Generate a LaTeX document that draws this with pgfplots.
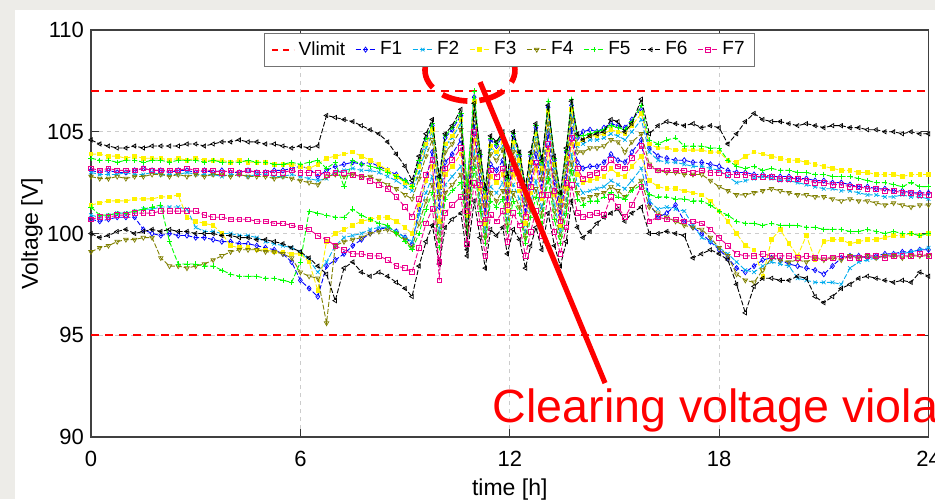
\documentclass[border=0pt]{standalone}
\usepackage{fontspec}
\setmainfont{Liberation Sans}
\usepackage{pgfplots}
\pgfplotsset{compat=1.18}
\usepackage{pgfplotstable}

\definecolor{olivec}{RGB}{128,128,0}
\definecolor{vred}{RGB}{255,0,0}
\definecolor{slidegray}{RGB}{237,236,232}

% upper group of nodes, one column per feeder
\pgfplotstableread{
t F1 F2 F3 F4 F5 F6 F7
0 103.1 103.0 103.9 102.8 103.7 104.6 103.2
0.25 103.0 102.9 103.9 102.7 103.6 104.4 103.1
0.5 103.1 102.9 103.8 102.7 103.6 104.3 103.2
0.75 103.0 102.9 103.8 102.8 103.5 104.2 103.1
1 103.0 103.0 103.7 102.7 103.6 104.2 103.1
1.25 103.1 102.9 103.8 102.8 103.6 104.3 103.1
1.5 103.2 102.9 103.7 102.8 103.5 104.2 103.2
1.75 103.1 103.0 103.7 102.9 103.6 104.3 103.1
2 103.1 102.9 103.7 102.9 103.6 104.3 103.1
2.25 103.0 102.9 103.6 102.8 103.5 104.3 103.1
2.5 103.1 102.9 103.7 102.9 103.6 104.3 103.1
2.75 103.1 103.0 103.6 102.8 103.6 104.4 103.2
3 103.0 102.9 103.7 102.9 103.6 104.4 103.1
3.25 103.1 102.9 103.6 102.8 103.5 104.3 103.1
3.5 103.0 102.9 103.6 102.9 103.6 104.4 103.1
3.75 103.1 102.8 103.6 102.9 103.5 104.5 103.0
4 103.0 102.9 103.5 102.8 103.5 104.5 103.1
4.25 103.0 102.9 103.6 102.9 103.5 104.6 103.0
4.5 103.1 102.8 103.5 102.8 103.6 104.5 103.1
4.75 103.0 102.9 103.5 102.8 103.5 104.5 103.0
5 103.0 102.9 103.5 102.8 103.5 104.4 103.0
5.25 103.1 102.8 103.4 102.7 103.4 104.4 103.0
5.5 103.1 102.8 103.4 102.8 103.4 104.3 103.0
5.75 103.2 102.9 103.4 102.7 103.5 104.2 103.1
6 103.3 102.8 103.3 102.6 103.4 104.3 103.0
6.25 103.2 102.7 103.2 102.5 103.5 104.2 103.0
6.5 102.8 102.6 103.4 102.4 103.6 104.3 103.0
6.75 103.1 102.7 103.7 102.8 103.2 105.8 102.9
7 103.3 103.0 103.8 102.9 103.5 105.7 103.0
7.25 103.4 103.1 103.9 102.8 102.3 105.6 103.0
7.5 103.5 103.2 104.0 102.9 103.6 105.5 102.9
7.75 103.4 103.1 103.8 102.8 103.4 105.3 102.8
8 103.5 103.1 103.6 102.8 103.3 105.1 102.6
8.25 103.3 103.0 103.4 102.6 103.2 104.9 102.4
8.5 103.1 102.8 103.1 102.4 103.0 104.5 102.2
8.75 102.9 102.6 102.8 102.2 102.8 103.9 101.8
9.0 102.6 102.3 102.5 101.9 102.6 103.3 101.3
9.2 102.4 102.1 102.3 101.7 102.3 102.6 100.8
9.4 103.5 103.0 103.3 102.7 103.6 103.8 101.7
9.6 104.6 104.2 104.4 103.8 104.7 104.9 102.9
9.78 105.3 104.9 105.1 104.6 105.4 105.6 103.6
9.98 102.5 102.1 102.3 101.8 102.7 102.8 97.7
10.15 104.7 104.3 104.4 104.0 104.8 104.9 103.2
10.35 105.1 104.7 104.8 104.4 105.2 105.3 103.6
10.6 105.8 105.4 105.6 105.1 105.9 106.1 104.2
10.78 102.3 102.0 102.1 101.8 102.4 99.2 101.1
10.98 106.7 106.2 106.5 105.9 107.0 106.4 105.0
11.15 103.8 103.4 103.6 103.2 103.9 104.0 102.4
11.3 102.0 101.7 101.8 101.4 102.1 102.2 100.7
11.45 104.6 104.2 104.3 103.9 104.7 104.8 103.1
11.62 104.3 103.9 104.0 103.6 104.4 104.5 102.8
11.8 104.8 104.3 104.5 104.1 104.9 105.0 103.2
11.93 102.6 102.3 102.4 102.0 102.7 102.8 101.4
12.1 104.8 104.3 104.5 104.0 104.9 105.0 103.2
12.28 103.8 103.4 103.6 103.1 103.9 104.0 102.4
12.45 102.1 101.7 101.9 101.5 102.2 102.3 100.8
12.6 103.8 103.4 103.5 103.1 103.9 104.0 102.3
12.75 105.2 104.7 104.9 104.4 105.3 105.4 103.5
12.92 103.4 103.0 103.2 102.7 103.5 103.6 101.9
13.1 106.2 105.7 106.0 105.4 106.5 106.3 104.4
13.28 103.6 103.2 103.4 102.9 103.7 103.8 102.1
13.45 101.8 101.5 101.6 101.3 101.9 102.0 100.6
13.62 104.0 103.6 103.7 103.3 104.1 104.2 102.5
13.77 106.3 105.9 106.1 105.6 106.6 106.5 104.7
13.94 104.7 104.3 104.4 104.0 104.8 104.9 103.2
14.1 105.0 104.4 104.6 104.0 104.8 104.6 102.7
14.3 105.1 104.6 104.8 104.2 104.9 104.8 102.9
14.5 105.0 104.6 104.8 104.2 105.0 104.9 103.0
14.7 105.2 104.7 104.9 104.3 105.1 105.0 103.2
14.9 105.4 104.9 105.1 104.6 105.3 105.6 103.6
15.1 105.3 104.8 105.0 104.5 105.2 105.5 103.3
15.3 105.2 104.6 104.9 104.0 105.1 105.0 103.2
15.5 105.6 105.0 105.3 104.5 105.5 105.4 103.7
15.77 106.1 105.6 105.9 104.9 106.3 106.6 104.3
16.0 104.2 104.0 104.4 103.4 104.6 104.9 103.3
16.25 103.8 103.6 104.2 103.1 104.4 105.3 103.1
16.5 103.7 103.5 104.2 103.0 104.6 105.5 103.1
16.75 103.6 103.5 104.1 103.0 104.7 105.4 103.1
17.0 103.6 103.4 104.1 102.9 104.3 105.3 103.1
17.25 103.5 103.3 104.1 102.9 104.3 105.4 103.0
17.5 103.5 103.3 104.1 102.9 104.3 105.2 103.1
17.75 103.4 103.2 104.0 102.6 104.2 105.3 103.0
18.0 103.3 103.1 104.0 102.3 104.2 105.2 103.0
18.25 103.1 102.8 103.6 102.1 103.6 104.4 102.9
18.5 103.0 102.5 103.5 101.9 103.3 104.9 102.9
18.75 103.0 102.6 103.8 101.9 103.2 105.5 102.9
19.0 102.9 102.7 104.0 102.0 103.3 105.9 102.8
19.25 102.9 102.8 103.9 102.1 103.1 105.6 102.8
19.5 102.8 102.7 103.8 102.2 103.2 105.5 102.8
19.75 102.8 102.6 103.7 102.1 103.1 105.5 102.7
20.0 102.8 102.6 103.6 102.0 103.1 105.4 102.7
20.25 102.7 102.5 103.6 101.9 103.0 105.3 102.7
20.5 102.7 102.4 103.5 101.9 103.0 105.4 102.6
20.75 102.6 102.3 103.4 101.8 102.9 105.3 102.5
21.0 102.6 102.2 103.3 101.8 102.9 105.2 102.5
21.25 102.5 102.2 103.2 101.7 102.8 105.3 102.4
21.5 102.5 102.1 103.1 101.6 102.8 105.3 102.4
21.75 102.4 102.1 103.1 101.7 102.8 105.2 102.3
22.0 102.3 102.0 103.0 101.6 102.7 105.2 102.3
22.25 102.3 101.9 103.0 101.6 102.6 105.1 102.2
22.5 102.2 101.9 102.9 101.5 102.5 105.1 102.2
22.75 102.2 101.8 102.9 101.4 102.5 105.0 102.1
23.0 102.1 101.8 102.9 101.5 102.4 105.0 102.1
23.25 102.1 101.9 102.8 101.4 102.3 104.9 102.0
23.5 102.0 101.8 102.9 101.3 102.5 105.0 102.0
23.75 102.0 101.8 102.9 101.4 102.3 104.9 101.9
24.0 102.0 101.7 102.9 101.4 102.3 104.9 101.9
}\vupper

% lower group of nodes, one column per feeder
\pgfplotstableread{
t F1 F2 F3 F4 F5 F6 F7
0 100.7 100.9 101.4 99.1 101.3 100.0 100.7
0.25 100.6 100.8 101.5 99.3 100.9 99.8 100.8
0.5 100.7 100.9 101.6 99.4 100.9 99.9 100.8
0.75 100.8 101.0 101.6 99.6 101.0 100.1 100.9
1 100.8 101.0 101.6 99.7 101.0 100.2 100.9
1.25 100.8 101.1 101.7 99.7 101.1 100.0 101.0
1.5 100.2 101.2 101.7 99.8 101.2 100.1 101.0
1.75 100.0 101.2 101.7 99.8 101.3 100.2 101.0
2 99.9 101.3 101.8 98.8 101.4 100.1 101.1
2.25 100.0 101.3 101.8 98.4 99.6 100.2 101.1
2.5 99.9 101.3 101.9 98.4 98.5 100.1 101.1
2.75 99.9 101.2 100.8 98.3 98.5 100.1 101.1
3 99.8 100.3 100.6 98.4 98.5 100.0 101.1
3.25 99.8 100.1 100.5 98.5 98.4 100.0 100.9
3.5 99.7 100.1 100.4 98.7 98.4 100.0 100.8
3.75 99.6 100.0 100.0 98.9 98.2 99.9 100.8
4 99.6 100.0 99.4 99.1 98.0 99.9 100.7
4.25 99.5 99.9 99.3 99.2 97.9 99.8 100.7
4.5 99.5 99.9 99.3 99.2 97.9 99.8 100.7
4.75 99.4 99.8 99.2 99.2 97.9 99.7 100.6
5 99.3 99.6 99.2 99.1 97.8 99.7 100.6
5.25 99.2 99.5 99.1 99.1 97.8 99.6 100.5
5.5 99.0 99.4 99.1 99.0 97.7 99.5 100.5
5.75 98.6 99.3 99.0 98.8 97.6 99.3 100.4
6 97.7 99.1 99.0 98.1 98.6 99.1 100.3
6.25 97.3 98.7 98.6 97.9 101.1 98.8 100.2
6.5 96.9 98.1 97.2 97.8 101.0 98.4 99.9
6.75 98.4 98.6 99.6 95.6 100.9 98.0 99.7
7 98.7 99.4 100.0 99.4 100.8 96.7 99.4
7.25 99.0 99.8 100.2 99.6 100.8 98.3 99.2
7.5 99.4 99.9 100.4 99.7 101.2 98.6 99.0
7.75 99.7 100.0 100.6 99.8 100.9 98.1 99.0
8 100.0 100.2 100.7 100.0 100.7 97.9 98.9
8.25 100.2 100.3 100.8 100.1 100.5 98.1 98.9
8.5 100.3 100.3 100.8 100.2 100.4 97.9 98.7
8.75 100.1 100.1 100.6 100.0 100.0 97.6 98.4
9.0 99.8 99.8 100.3 99.7 99.6 97.3 98.3
9.2 99.5 99.6 100.0 99.3 99.2 96.9 98.1
9.4 101.2 100.9 101.4 100.5 100.0 98.4 99.3
9.6 102.6 102.0 102.6 101.6 101.2 99.6 100.5
9.78 104.0 102.8 103.3 102.4 102.0 100.4 101.2
9.98 101.3 100.1 100.6 99.7 99.3 98.5 98.6
10.15 103.5 102.4 102.9 102.0 101.7 100.3 101.0
10.35 103.9 102.8 103.3 102.4 102.1 100.7 101.4
10.6 104.6 103.3 103.9 102.9 102.5 101.0 101.8
10.78 101.4 100.6 100.9 100.3 100.0 98.9 99.5
10.98 105.4 104.1 104.6 103.7 103.2 101.6 102.5
11.15 102.7 101.7 102.2 101.4 101.1 99.8 100.5
11.3 101.0 100.1 100.5 99.8 99.5 98.3 98.9
11.45 103.4 102.3 102.8 102.0 101.6 100.2 100.9
11.62 103.1 102.0 102.5 101.6 101.3 99.9 100.6
11.8 103.6 102.5 102.9 102.1 101.7 100.3 101.1
11.93 101.7 100.7 101.1 100.4 100.1 99.0 99.6
12.1 103.6 102.4 102.9 102.0 101.6 100.2 101.0
12.28 102.7 101.7 102.1 101.3 101.0 99.7 100.4
12.45 101.1 100.1 100.5 99.8 99.5 98.3 98.9
12.6 102.6 101.5 102.0 101.2 100.8 99.4 100.1
12.75 103.9 102.6 103.2 102.2 101.8 100.3 101.1
12.92 102.3 101.2 101.7 100.9 100.5 99.2 99.9
13.1 104.9 103.5 104.1 103.1 102.7 101.0 101.9
13.28 102.5 101.4 101.9 101.1 100.7 99.4 100.1
13.45 100.9 100.1 100.4 99.8 99.5 98.4 99.0
13.62 102.8 101.7 102.2 101.4 101.0 99.6 100.3
13.77 105.1 103.9 104.4 103.5 103.1 101.6 102.4
13.94 103.5 102.4 102.9 102.0 101.7 100.3 101.0
14.1 103.2 102.0 102.5 101.7 101.4 99.8 100.8
14.3 103.3 102.1 102.6 101.8 101.6 100.1 100.9
14.5 103.3 102.2 102.7 101.9 101.6 100.5 101.0
14.7 103.5 102.3 102.8 102.0 101.8 100.8 100.9
14.9 103.9 102.6 103.2 102.3 102.0 101.0 101.8
15.1 103.6 102.4 102.9 102.1 101.8 101.2 101.3
15.3 103.5 102.2 102.8 101.8 101.7 100.6 100.8
15.5 104.0 102.6 103.3 102.2 102.1 101.0 101.4
15.77 104.6 103.2 103.8 102.6 102.4 101.3 102.3
16.0 101.5 101.6 102.6 101.3 101.9 100.0 100.6
16.25 100.8 101.2 102.3 101.0 101.8 100.0 100.8
16.5 101.0 101.3 102.2 100.8 101.8 100.1 100.7
16.75 101.4 101.2 102.2 100.6 101.7 100.0 100.7
17.0 100.6 101.1 102.1 100.4 101.7 99.9 100.6
17.25 100.3 100.4 102.0 100.3 101.6 98.8 100.6
17.5 100.0 99.8 101.9 100.2 101.6 99.0 100.5
17.75 99.6 99.6 101.6 99.8 101.4 99.2 100.2
18.0 99.2 99.3 101.1 99.3 101.1 99.0 99.8
18.25 98.8 99.0 100.6 98.9 100.9 98.7 99.4
18.5 98.3 98.6 100.0 98.0 100.6 97.5 99.0
18.75 98.1 98.2 99.4 97.7 100.5 96.1 98.9
19.0 98.4 98.1 99.2 97.6 100.5 97.4 98.9
19.25 98.7 98.4 97.9 98.2 100.4 97.8 99.0
19.5 98.8 98.6 99.7 98.8 100.5 97.8 98.9
19.75 98.7 98.5 100.2 98.7 100.4 97.7 98.9
20.0 98.5 98.4 99.5 98.6 100.4 97.7 98.9
20.25 98.4 97.8 98.9 98.7 100.4 97.9 98.8
20.5 98.3 97.7 99.9 98.6 100.3 97.8 98.9
20.75 98.2 97.6 98.7 98.8 100.3 96.9 98.8
21.0 98.0 97.6 99.6 98.7 100.2 96.6 98.8
21.25 98.4 97.6 99.7 98.8 100.2 96.9 98.8
21.5 98.8 97.5 99.7 98.7 100.2 97.3 98.9
21.75 98.9 98.3 99.5 98.9 100.1 97.5 98.8
22.0 98.9 98.6 99.6 98.8 100.1 97.8 98.8
22.25 98.8 98.7 99.7 98.9 100.2 97.9 98.9
22.5 98.9 98.8 99.7 98.8 100.1 97.8 98.9
22.75 99.0 98.9 99.8 98.9 100.0 97.7 98.8
23.0 99.0 99.0 99.9 98.9 100.1 97.6 98.9
23.25 99.1 99.0 99.9 98.8 100.0 97.7 98.9
23.5 99.1 99.1 100.0 98.9 100.0 97.6 98.9
23.75 99.2 99.2 99.9 98.9 99.9 98.1 99.0
24.0 99.2 99.3 100.0 98.9 100.0 97.9 98.9
}\vlower

\pgfplotsset{
  feeder/.style={line width=0.45pt, dash pattern=on 2.5pt off 1pt, mark size=1.3pt},
}

\begin{document}
\begin{tikzpicture}
\path[use as bounding box] (0pt,0pt) rectangle (467.5pt,249.5pt);
\fill[slidegray] (0pt,0pt) rectangle (467.5pt,249.5pt);
\fill[white] (7.5pt,0pt) rectangle (467.5pt,244.5pt);
\begin{axis}[
  at={(45.5pt,31pt)}, anchor=south west,
  scale only axis, width=418.75pt, height=203.5pt,
  xmin=0, xmax=24, ymin=90, ymax=110,
  xtick={0,6,12,18,24}, ytick={90,95,100,105,110},
  /pgf/number format/assume math mode=true,
  tick label style={font=\fontsize{11}{13}\selectfont},
  xticklabel style={yshift=-3.5pt},
  tick align=inside, major tick length=4pt,
  tick style={black!80, line width=0.5pt},
  axis line style={black!75, line width=0.6pt},
  grid=major,
  major grid style={gray!40, dash pattern=on 2pt off 2pt, line width=0.4pt},
  xlabel={time [h]}, ylabel={Voltage [V]},
  label style={font=\fontsize{11.5}{13}\selectfont},
  x label style={at={(axis description cs:0.5,-0.1425)}, anchor=base},
  y label style={at={(axis description cs:-0.0705,0.5)}, anchor=center},
  clip mode=individual,
  legend columns=-1,
  legend style={at={(0.5,0.993)}, anchor=north, draw=black!55, fill=white,
    font=\fontsize{9.5}{11}\selectfont,
    /tikz/every even column/.append style={column sep=3pt}},
  legend image code/.code={\draw[mark repeat=2,mark phase=2,#1] plot coordinates {(0pt,0pt) (5pt,0pt) (10pt,0pt)};},
]
\addplot[red, line width=0.9pt, dashed, dash pattern=on 4pt off 3pt,
  legend image code/.code={\draw[red, line width=0.9pt, dash pattern=on 3pt off 2.5pt] (0pt,0pt) -- (11pt,0pt);}]
  coordinates {(0,107) (24,107)};
\addlegendentry{Vlimit}

\addplot[feeder, blue, mark=diamond, mark options={solid, line width=0.35pt}] table[x=t,y=F1]{\vupper};
\addlegendentry{F1}
\addplot[feeder, blue, mark=diamond, mark options={solid, line width=0.35pt}, forget plot] table[x=t,y=F1]{\vlower};

\addplot[feeder, cyan, mark=x, mark options={solid, line width=0.35pt}] table[x=t,y=F2]{\vupper};
\addlegendentry{F2}
\addplot[feeder, cyan, mark=x, mark options={solid, line width=0.35pt}, forget plot] table[x=t,y=F2]{\vlower};

\addplot[feeder, yellow, mark=square*, mark size=0.9pt, mark options={solid}] table[x=t,y=F3]{\vupper};
\addlegendentry{F3}
\addplot[feeder, yellow, mark=square*, mark size=0.9pt, mark options={solid}, forget plot] table[x=t,y=F3]{\vlower};

\addplot[feeder, olivec, mark=triangle, mark options={solid, rotate=180, line width=0.35pt}] table[x=t,y=F4]{\vupper};
\addlegendentry{F4}
\addplot[feeder, olivec, mark=triangle, mark options={solid, rotate=180, line width=0.35pt}, forget plot] table[x=t,y=F4]{\vlower};

\addplot[feeder, green, mark=+, mark options={solid, line width=0.35pt}] table[x=t,y=F5]{\vupper};
\addlegendentry{F5}
\addplot[feeder, green, mark=+, mark options={solid, line width=0.35pt}, forget plot] table[x=t,y=F5]{\vlower};

\addplot[feeder, black, mark=triangle, mark size=1.2pt, mark options={solid, rotate=90, line width=0.35pt}] table[x=t,y=F6]{\vupper};
\addlegendentry{F6}
\addplot[feeder, black, mark=triangle, mark size=1.2pt, mark options={solid, rotate=90, line width=0.35pt}, forget plot] table[x=t,y=F6]{\vlower};

\addplot[feeder, magenta, mark=square, mark size=1.2pt, mark options={solid, line width=0.35pt}] table[x=t,y=F7]{\vupper};
\addlegendentry{F7}
\addplot[feeder, magenta, mark=square, mark size=1.2pt, mark options={solid, line width=0.35pt}, forget plot] table[x=t,y=F7]{\vlower};

% lower voltage limit, drawn last
\addplot[red, line width=0.9pt, dash pattern=on 4pt off 3pt, forget plot] coordinates {(0,95) (24,95)};

% annotation
\draw[vred, line width=2.8pt, dash pattern=on 13pt off 6pt] (axis cs:10.86,108.03) ellipse [x radius=22.5pt, y radius=15.5pt];
\draw[vred, line width=2.6pt] (axis cs:11.15,107.44) -- (axis cs:14.73,92.65);
\node[anchor=base west, inner sep=0pt, text=vred, font=\fontsize{23.3}{27}\selectfont] at (axis cs:11.5,90.70) {Clearing voltage violation};
\end{axis}
\end{tikzpicture}
\end{document}
